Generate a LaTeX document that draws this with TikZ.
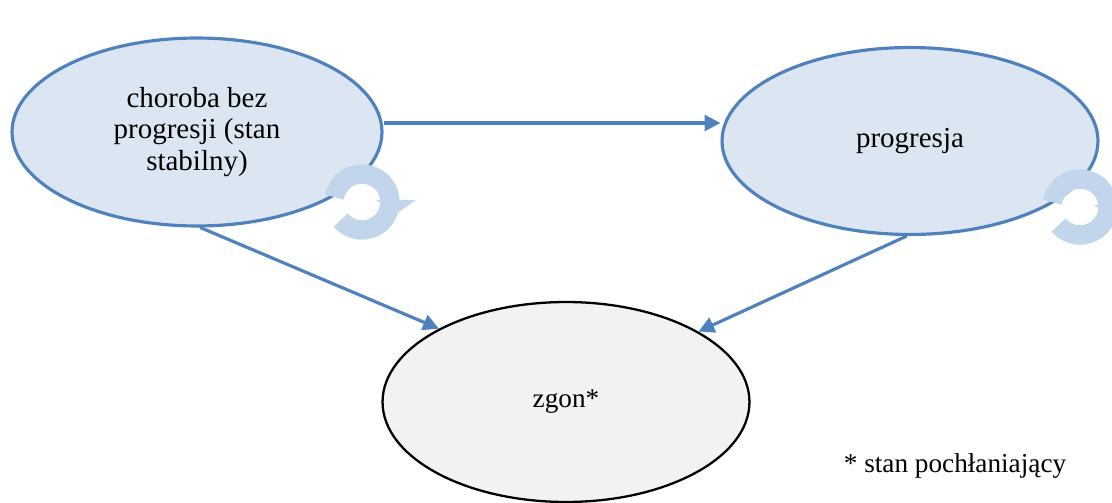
\documentclass[tikz,border=0pt]{standalone}
\usepackage{fontspec}
\setmainfont{Liberation Serif}
\usetikzlibrary{shapes.geometric,arrows.meta}
\definecolor{stfill}{HTML}{DCE6F2}
\definecolor{stline}{HTML}{4F81BD}
\definecolor{zfill}{HTML}{F2F2F2}
\definecolor{loopc}{HTML}{C3D5EA}
\tikzset{
  state/.style={ellipse, draw=stline, line width=1.8pt, fill=stfill, inner sep=0pt, align=center, font=\fontsize{16.5}{17.8}\selectfont},
  absorb/.style={ellipse, draw=black, line width=1.3pt, fill=zfill, inner sep=0pt, font=\fontsize{15.5}{17.5}\selectfont},
  conn/.style={draw=stline, line width=1.8pt, -{Triangle[length=9pt,width=9pt]}},
  loopicon/.style={draw=loopc, line width=11pt},
}
\begin{document}
\begin{tikzpicture}[x=0.02cm,y=-0.02cm]
\useasboundingbox (0,0) rectangle (1112,503);
\node[state, minimum width=7.4cm, minimum height=3.76cm] (L) at (197,132) {choroba bez\\progresji (stan\\stabilny)};
\node[state, minimum width=7.52cm, minimum height=3.74cm] (R) at (910,141) {progresja};
\node[absorb, minimum width=7.34cm, minimum height=4.0cm] (Z) at (566,402) {zgon*};
\node[font=\fontsize{15.5}{17}\selectfont] (note) at (955,466) {* stan pochłaniający};
% loop icons
\coordinate (lc) at (362,202);
\coordinate (rc) at (1080,207);
\draw[loopicon] ([shift={(140:28)}]lc) arc[start angle=140, end angle=-170, radius=28];
\fill[loopc] ([shift={(14,-2)}]lc) -- ++(40,0) -- ++(-20,14) -- cycle;
\draw[loopicon] ([shift={(140:28)}]rc) arc[start angle=140, end angle=-170, radius=28];
\fill[loopc] ([shift={(14,-2)}]rc) -- ++(40,0) -- ++(-20,14) -- cycle;
% connectors
\draw[conn] (L.east |- 0,123) -- (R.west |- 0,123);
\draw[conn] (L.-88) -- (Z.150);
\draw[conn] (R.-92) -- (Z.28);
\end{tikzpicture}
\end{document}
